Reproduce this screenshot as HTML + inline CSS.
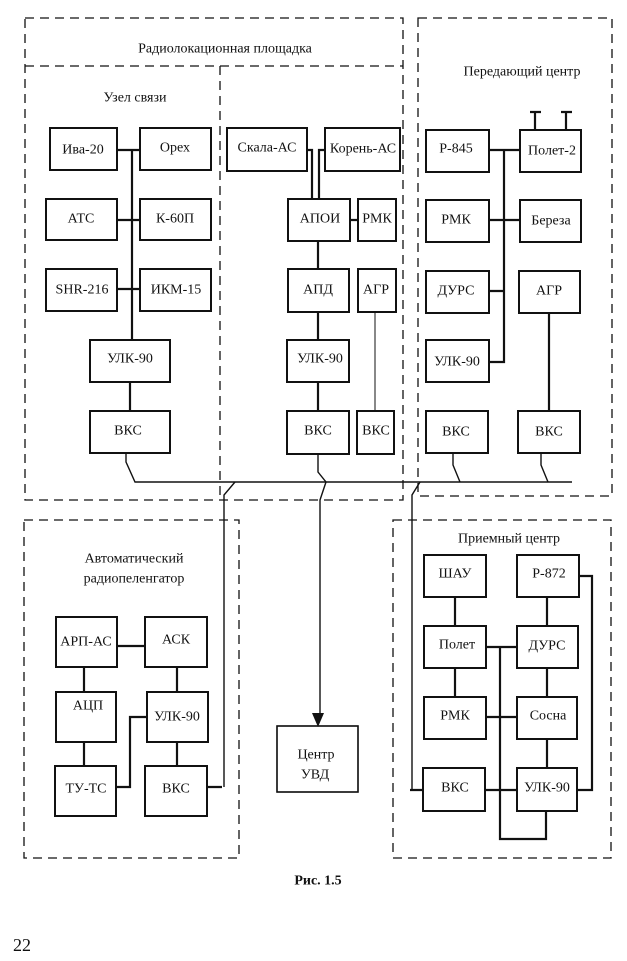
<!DOCTYPE html>
<html><head><meta charset="utf-8"><style>
html,body{margin:0;padding:0;background:#fff;}
svg{display:block}
text{font-family:"Liberation Serif","Noto Serif CJK SC",serif;font-size:14px;fill:#111;text-anchor:middle;dominant-baseline:central}
</style></head><body>
<svg width="627" height="961" viewBox="0 0 627 961">
<g fill="none" stroke="#111" stroke-width="1.3" stroke-dasharray="9,6">
<rect x="25" y="18" width="378" height="482"/>
<line x1="25" y1="66" x2="403" y2="66"/>
<line x1="220" y1="66" x2="220" y2="500"/>
<rect x="418" y="18" width="194" height="478"/>
<rect x="24" y="520" width="215" height="338"/>
<rect x="393" y="520" width="218" height="338"/>
</g>
<text x="225" y="49">Радиолокационная площадка</text>
<text x="135" y="98">Узел связи</text>
<text x="522" y="72">Передающий центр</text>
<text x="134" y="559">Автоматический</text>
<text x="134" y="579">радиопеленгатор</text>
<text x="509" y="539">Приемный центр</text>
<g fill="#fff" stroke="#111" stroke-width="2">
<rect x="50" y="128" width="67" height="42"/><rect x="140" y="128" width="71" height="42"/>
<rect x="46" y="199" width="71" height="41"/><rect x="140" y="199" width="71" height="41"/>
<rect x="46" y="269" width="71" height="42"/><rect x="140" y="269" width="71" height="42"/>
<rect x="90" y="340" width="80" height="42"/><rect x="90" y="411" width="80" height="42"/>
<rect x="227" y="128" width="80" height="43"/><rect x="325" y="128" width="75" height="43"/>
<rect x="288" y="199" width="62" height="42"/><rect x="358" y="199" width="38" height="42"/>
<rect x="288" y="269" width="61" height="43"/><rect x="358" y="269" width="38" height="43"/>
<rect x="287" y="340" width="62" height="42"/><rect x="287" y="411" width="62" height="43"/>
<rect x="357" y="411" width="37" height="43"/>
<rect x="426" y="130" width="63" height="42"/><rect x="520" y="130" width="61" height="42"/>
<rect x="426" y="200" width="63" height="42"/><rect x="520" y="200" width="61" height="42"/>
<rect x="426" y="271" width="63" height="42"/><rect x="519" y="271" width="61" height="42"/>
<rect x="426" y="340" width="63" height="42"/>
<rect x="426" y="411" width="62" height="42"/><rect x="518" y="411" width="62" height="42"/>
<rect x="56" y="617" width="61" height="50"/><rect x="145" y="617" width="62" height="50"/>
<rect x="56" y="692" width="60" height="50"/><rect x="147" y="692" width="61" height="50"/>
<rect x="55" y="766" width="61" height="50"/><rect x="145" y="766" width="62" height="50"/>
<rect x="424" y="555" width="62" height="42"/><rect x="517" y="555" width="62" height="42"/>
<rect x="424" y="626" width="62" height="42"/><rect x="517" y="626" width="61" height="42"/>
<rect x="424" y="697" width="62" height="42"/><rect x="517" y="697" width="60" height="42"/>
<rect x="423" y="768" width="62" height="43"/><rect x="517" y="768" width="60" height="43"/>
</g>
<g fill="none" stroke="#111" stroke-width="1.4">
<rect x="277" y="726" width="81" height="66"/>
<rect x="277" y="726" width="81" height="66"/>
</g>
<g fill="none" stroke="#111" stroke-width="2.2">
<path d="M132 150V340M117 150H140M117 220H140M117 289H140M130 382V411"/>
<path d="M307 150H312V199M325 150H319V199M350 220H358M318 241V269M318 312V340M318 382V411"/>
<path d="M489 150H520M504 150V362H489M489 220H520M489 291H504M549 313V411"/>
<path d="M535 130V112M530 112H541M566 130V112M561 112H572"/>
<path d="M117 646H145M84 667V692M84 742V766M177 667V692M177 742V766M116 787H130V717H147M207 787H222"/>
<path d="M455 597V626M455 668V697M547 597V626M547 668V697M547 739V768M486 647H517M486 717H517M485 790H517M500 647V839H546V811M579 576H592V790H577M423 790H410"/>
</g>
<g fill="none" stroke="#111" stroke-width="1.4">
<path d="M126 453V462L135 482H572"/>
<path d="M318 454V472L326 482L320 500V716"/>
<path d="M235 482L224 495V787"/>
<path d="M420 482L412 495V790"/>
<path d="M453 453V465L460 482M541 453V465L548 482"/>
<path d="M375 312V411" stroke-width="1"/>
</g>
<path d="M312 713L324 713L318 727Z" fill="#111"/>
<text x="83" y="150">Ива-20</text><text x="175" y="148">Орех</text>
<text x="81" y="219">АТС</text><text x="175" y="219">К-60П</text>
<text x="82" y="290">SHR-216</text><text x="176" y="290">ИКМ-15</text>
<text x="130" y="359">УЛК-90</text><text x="128" y="431">ВКС</text>
<text x="267" y="148">Скала-АС</text><text x="363" y="149">Корень-АС</text>
<text x="320" y="219">АПОИ</text><text x="377" y="219">РМК</text>
<text x="318" y="290">АПД</text><text x="376" y="290">АГР</text>
<text x="320" y="359">УЛК-90</text><text x="318" y="431">ВКС</text><text x="376" y="431">ВКС</text>
<text x="456" y="149">Р-845</text><text x="552" y="151">Полет-2</text>
<text x="456" y="220">РМК</text><text x="551" y="221">Береза</text>
<text x="456" y="291">ДУРС</text><text x="549" y="291">АГР</text>
<text x="457" y="362">УЛК-90</text>
<text x="456" y="432">ВКС</text><text x="549" y="432">ВКС</text>
<text x="86" y="642">АРП-АС</text><text x="176" y="640">АСК</text>
<text x="88" y="706">АЦП</text><text x="177" y="717">УЛК-90</text>
<text x="86" y="789">ТУ-ТС</text><text x="176" y="789">ВКС</text>
<text x="316" y="755">Центр</text><text x="315" y="775">УВД</text>
<text x="455" y="574">ШАУ</text><text x="549" y="574">Р-872</text>
<text x="457" y="645">Полет</text><text x="547" y="646">ДУРС</text>
<text x="455" y="716">РМК</text><text x="548" y="716">Сосна</text>
<text x="455" y="788">ВКС</text><text x="547" y="788">УЛК-90</text>
<text x="318" y="881" style="font-weight:bold;font-size:14px">Рис.  1.5</text>
<text x="22" y="945" style="font-size:18px">22</text>
</svg>
</body></html>
